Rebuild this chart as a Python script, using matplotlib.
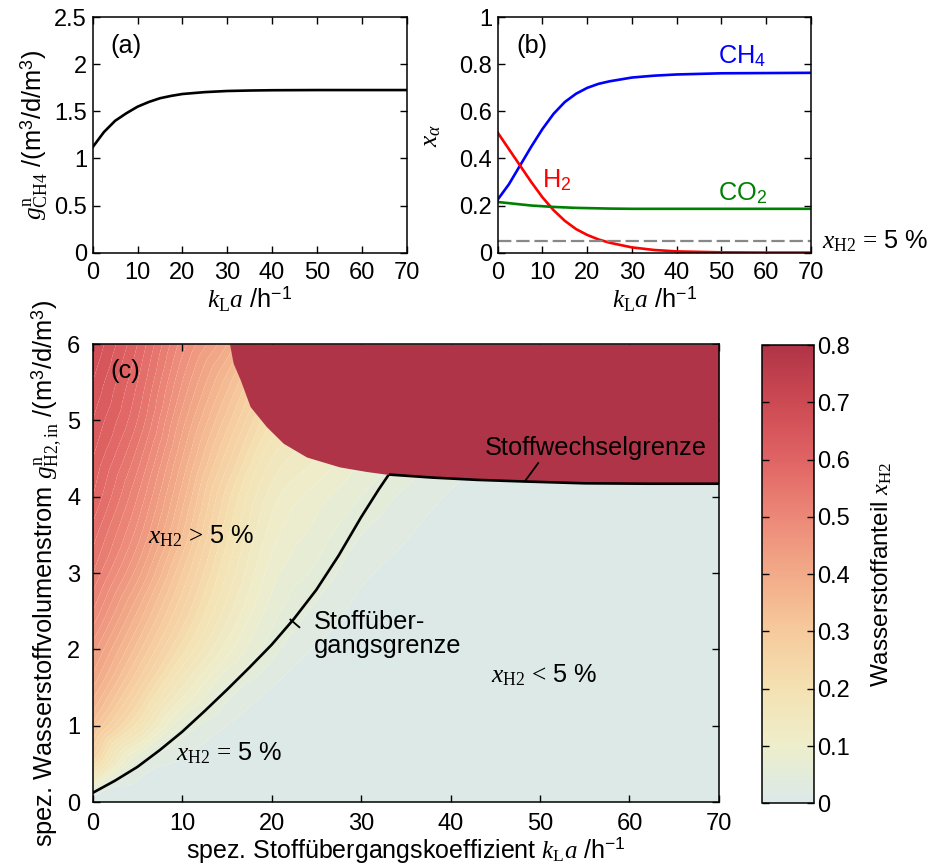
import numpy as np
import matplotlib
matplotlib.use("Agg")
import matplotlib.pyplot as plt
import matplotlib.tri as mtri
from matplotlib.colors import LinearSegmentedColormap, Normalize
from matplotlib.cm import ScalarMappable
from matplotlib.ticker import FormatStrFormatter

# ---------------- data ----------------
# (a) methane production rate vs. kLa
kla_a = [0, 2.5, 5, 7.5, 10, 12.5, 15, 17.5, 20, 25, 30, 35, 40, 50, 60, 70]
g_ch4 = [1.12, 1.28, 1.40, 1.48, 1.55, 1.60, 1.64, 1.665, 1.685, 1.705,
         1.717, 1.722, 1.725, 1.727, 1.727, 1.727]

# (b) gas composition vs. kLa
kla_b = [0, 2.5, 5, 7.5, 10, 12.5, 15, 17.5, 20, 22.5, 25, 30, 35, 40, 50, 60, 70]
x_ch4 = [0.225, 0.29, 0.37, 0.45, 0.525, 0.59, 0.64, 0.675, 0.70, 0.717,
         0.728, 0.744, 0.752, 0.757, 0.762, 0.763, 0.764]
x_h2 = [0.51, 0.44, 0.37, 0.30, 0.235, 0.18, 0.135, 0.10, 0.075, 0.056,
        0.042, 0.022, 0.011, 0.005, 0.001, 0.0, 0.0]
x_co2 = [0.215, 0.21, 0.205, 0.20, 0.197, 0.194, 0.192, 0.19, 0.189, 0.188,
         0.187, 0.186, 0.186, 0.186, 0.186, 0.186, 0.186]
x_h2_limit = 0.05

# (c) hydrogen fraction over kLa (one list per kLa node) and hydrogen feed rate
kla_nodes = [0, 5, 10, 15, 20, 25, 30, 35, 40, 50, 60, 70]
g_nodes = [0, 0.5, 1, 1.5, 2, 2.5, 3, 3.5, 4, 4.5, 5, 5.5, 6]
xh2_by_kla = [
    [0.00, 0.23, 0.33, 0.40, 0.45, 0.50, 0.54, 0.57, 0.60, 0.62, 0.64, 0.66, 0.68],
    [0.00, 0.05, 0.19, 0.27, 0.33, 0.38, 0.43, 0.47, 0.50, 0.53, 0.56, 0.58, 0.60],
    [0.00, 0.015, 0.06, 0.14, 0.21, 0.26, 0.30, 0.34, 0.37, 0.40, 0.43, 0.46, 0.49],
    [0.00, 0.005, 0.02, 0.055, 0.11, 0.15, 0.18, 0.205, 0.23, 0.27, 0.31, 0.35, 0.40],
    [0.00, 0.00, 0.008, 0.02, 0.048, 0.07, 0.09, 0.11, 0.13, 0.16, 0.20, 0.24, 0.28],
    [0.00, 0.00, 0.003, 0.008, 0.018, 0.035, 0.055, 0.072, 0.09, 0.12, 0.15, 0.18, 0.21],
    [0.00, 0.00, 0.00, 0.003, 0.007, 0.014, 0.025, 0.04, 0.06, 0.08, 0.10, 0.12, 0.14],
    [0.00, 0.00, 0.00, 0.00, 0.003, 0.006, 0.012, 0.022, 0.035, 0.055, 0.07, 0.085, 0.10],
    [0.00, 0.00, 0.00, 0.00, 0.00, 0.002, 0.005, 0.01, 0.018, 0.03, 0.04, 0.05, 0.06],
    [0.00, 0.00, 0.00, 0.00, 0.00, 0.00, 0.00, 0.002, 0.005, 0.01, 0.015, 0.02, 0.025],
    [0.00, 0.00, 0.00, 0.00, 0.00, 0.00, 0.00, 0.00, 0.00, 0.00, 0.00, 0.00, 0.00],
    [0.00, 0.00, 0.00, 0.00, 0.00, 0.00, 0.00, 0.00, 0.00, 0.00, 0.00, 0.00, 0.00],
]

# mass-transfer limit (x_H2 = 5 %)
kla_h2_limit = [0, 2.5, 5, 7.5, 10, 12.5, 15, 17.5, 20, 22.5, 25, 27.5, 30, 32, 33.1]
g_h2_limit = [0.12, 0.28, 0.46, 0.68, 0.92, 1.19, 1.47, 1.76, 2.06, 2.40, 2.78,
              3.23, 3.73, 4.10, 4.29]

# metabolic limit (washout region above this curve)
kla_wash = [15.3, 15.7, 16.5, 17.6, 19.4, 21.3, 23.9, 27.6, 30.6, 33.1,
            38, 43, 48, 55, 62, 70]
g_wash = [6.0, 5.75, 5.53, 5.18, 4.92, 4.70, 4.52, 4.39, 4.33, 4.29,
          4.25, 4.22, 4.20, 4.175, 4.17, 4.17]
kla_wash_edge = 33.1

cbar_ticks = [0, 0.1, 0.2, 0.3, 0.4, 0.5, 0.6, 0.7, 0.8]

# ---------------- style ----------------
plt.rcParams.update({
    "font.family": ["Liberation Sans", "DejaVu Sans"],
    "font.size": 18.3,
    "mathtext.fontset": "custom",
    "mathtext.rm": "Liberation Serif",
    "mathtext.it": "Liberation Serif:italic",
    "mathtext.bf": "Liberation Serif:bold",
    "mathtext.sf": "Liberation Sans",
    "axes.linewidth": 1.1,
    "xtick.direction": "in", "ytick.direction": "in",
    "xtick.top": True, "ytick.right": True,
    "xtick.major.size": 5, "ytick.major.size": 5,
    "xtick.major.width": 1.0, "ytick.major.width": 1.0,
    "xtick.labelsize": 17, "ytick.labelsize": 17,
})

cmap = LinearSegmentedColormap.from_list("h2frac", [
    (0.000, "#dbe9ea"),
    (0.0625, "#e3ebd9"),
    (0.125, "#eeeecb"),
    (0.25, "#f4e1b2"),
    (0.375, "#f6ca9c"),
    (0.50, "#f2ab88"),
    (0.625, "#ec8878"),
    (0.75, "#e06464"),
    (0.875, "#cd4a53"),
    (1.000, "#b03447"),
])
norm = Normalize(0, 0.8)

fig = plt.figure(figsize=(9.36, 8.65), dpi=100)

kla_label = r"$k_{\mathrm{L}}a$ /h$^{\mathsf{-1}}$"

# ---------------- (a) ----------------
ax_a = fig.add_axes([0.099, 0.708, 0.3355, 0.272])
ax_a.plot(kla_a, g_ch4, color="black", lw=1.9)
ax_a.set_xlim(0, 70)
ax_a.set_ylim(0, 2.5)
ax_a.set_xticks([0, 10, 20, 30, 40, 50, 60, 70])
ax_a.set_yticks([0, 0.5, 1, 1.5, 2, 2.5])
ax_a.yaxis.set_major_formatter(FormatStrFormatter("%g"))
ax_a.tick_params(axis="x", pad=7)
ax_a.tick_params(axis="y", pad=4)
ax_a.set_xlabel(kla_label, labelpad=0)
ax_a.set_ylabel(r"$g^{\mathrm{n}}_{\mathrm{CH4}}$ /(m$^{\mathsf{3}}$/d/m$^{\mathsf{3}}$)",
                labelpad=3)
ax_a.text(0.055, 0.88, "(a)", transform=ax_a.transAxes, va="center", ha="left")

# ---------------- (b) ----------------
ax_b = fig.add_axes([0.5317, 0.708, 0.3347, 0.272])
ax_b.plot(kla_b, x_ch4, color="#0000ff", lw=1.9)
ax_b.plot(kla_b, x_h2, color="#ff0000", lw=1.9)
ax_b.plot(kla_b, x_co2, color="#008000", lw=1.9)
ax_b.axhline(x_h2_limit, color="#888888", lw=1.6, dashes=(6, 2.2))
ax_b.set_xlim(0, 70)
ax_b.set_ylim(0, 1)
ax_b.set_xticks([0, 10, 20, 30, 40, 50, 60, 70])
ax_b.set_yticks([0, 0.2, 0.4, 0.6, 0.8, 1])
ax_b.yaxis.set_major_formatter(FormatStrFormatter("%g"))
ax_b.tick_params(axis="x", pad=7)
ax_b.tick_params(axis="y", pad=4)
ax_b.set_xlabel(kla_label, labelpad=0)
ax_b.set_ylabel(r"$x_{\alpha}$", labelpad=12)
ax_b.text(0.06, 0.88, "(b)", transform=ax_b.transAxes, va="center", ha="left")
ax_b.text(49.2, 0.836, r"CH$_{\mathsf{4}}$", color="#0000ff", va="center", ha="left")
ax_b.text(9.8, 0.309, r"H$_{\mathsf{2}}$", color="#ff0000", va="center", ha="left")
ax_b.text(49.3, 0.252, r"CO$_{\mathsf{2}}$", color="#008000", va="center", ha="left")
ax_b.annotate(r"$x_{\mathrm{H2}}\,{=}\,$5 %", xy=(1.035, x_h2_limit),
              xycoords=("axes fraction", "data"), va="center", ha="left",
              annotation_clip=False)

# ---------------- (c) ----------------
ax_c = fig.add_axes([0.099, 0.0728, 0.6691, 0.5295])
K, G = np.meshgrid(kla_nodes, g_nodes)
Z = np.array(xh2_by_kla).T
tri = mtri.Triangulation(K.ravel(), G.ravel())
interp = mtri.CubicTriInterpolator(tri, Z.ravel(), kind="geom")
tri_f, z_f = mtri.UniformTriRefiner(tri).refine_field(Z.ravel(), triinterpolator=interp,
                                                      subdiv=4)
z_f = np.clip(z_f, 0.0, None)
levels = np.linspace(0, 0.8, 41)
ax_c.tricontourf(tri_f, z_f, levels=levels, cmap=cmap, norm=norm, extend="max",
                 antialiased=True, zorder=1)
# mass-transfer limit
ax_c.plot(kla_h2_limit, g_h2_limit, color="black", lw=1.9, zorder=2)
# washout region and its boundary
ax_c.fill_between(kla_wash, g_wash, 6, color=cmap(1.0), lw=0, zorder=3)
kw = np.array(kla_wash)
gw = np.array(g_wash)
edge = kw >= kla_wash_edge
ax_c.plot(kw[edge], gw[edge], color="black", lw=1.9, zorder=4, solid_capstyle="butt")

ax_c.set_xlim(0, 70)
ax_c.set_ylim(0, 6)
ax_c.set_xticks([0, 10, 20, 30, 40, 50, 60, 70])
ax_c.set_yticks([0, 1, 2, 3, 4, 5, 6])
ax_c.tick_params(axis="x", pad=8)
ax_c.tick_params(axis="y", pad=9)
for s in ax_c.spines.values():
    s.set_zorder(6)
ax_c.set_axisbelow(False)
ax_c.set_xlabel(r"spez. Stoffübergangskoeffizient $k_{\mathrm{L}}a$ /h$^{\mathsf{-1}}$",
                labelpad=0, fontsize=18)
ax_c.set_ylabel(r"spez. Wasserstoffvolumenstrom $g^{\mathrm{n}}_{\mathrm{H2,in}}$ "
                r"/(m$^{\mathsf{3}}$/d/m$^{\mathsf{3}}$)", labelpad=2)

ax_c.text(2.0, 5.64, "(c)", va="center", ha="left", zorder=7)
ax_c.text(6.2, 3.48, r"$x_{\mathrm{H2}}\,{>}\,$5 %", va="center", ha="left", zorder=7)
ax_c.text(44.5, 1.66, r"$x_{\mathrm{H2}}\,{<}\,$5 %", va="center", ha="left", zorder=7)
ax_c.text(9.3, 0.64, r"$x_{\mathrm{H2}}\,{=}\,$5 %", va="center", ha="left", zorder=7)
ax_c.text(24.7, 2.2, "Stoffüber-\ngangsgrenze", va="center", ha="left",
          linespacing=1.0, zorder=7)
ax_c.plot([22.1, 23.1], [2.39, 2.29], color="black", lw=1.3, zorder=7)
ax_c.text(43.8, 4.64, "Stoffwechselgrenze", va="center", ha="left", zorder=7)
ax_c.plot([49.8, 48.3], [4.44, 4.20], color="black", lw=1.3, zorder=7)

# ---------------- colorbar ----------------
cax = fig.add_axes([0.8138, 0.0713, 0.0562, 0.5298])
cb = fig.colorbar(ScalarMappable(norm=norm, cmap=cmap), cax=cax)
cb.set_ticks(cbar_ticks)
cb.ax.yaxis.set_major_formatter(FormatStrFormatter("%g"))
cax.tick_params(direction="in", left=True, right=True, length=5, width=1.0, pad=2)
cb.outline.set_linewidth(1.1)
cb.set_label(r"Wasserstoffanteil $x_{\mathrm{H2}}$", labelpad=14, fontsize=17.5)

fig.savefig("out.png", dpi=100)
